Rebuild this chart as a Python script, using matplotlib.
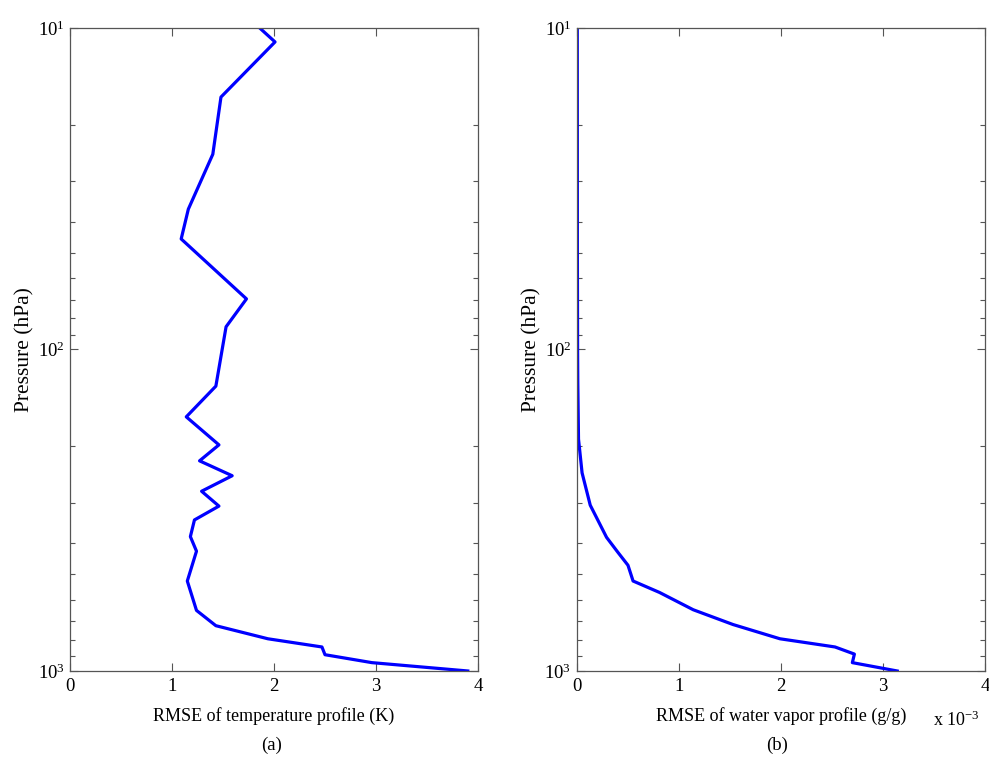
import numpy as np
import matplotlib
matplotlib.use('Agg')
import matplotlib.pyplot as plt
from matplotlib.ticker import LogLocator, FixedLocator, NullFormatter

plt.rcParams['font.family'] = ['Liberation Serif', 'DejaVu Serif']
plt.rcParams['mathtext.fontset'] = 'custom'
plt.rcParams['mathtext.rm'] = 'Liberation Serif'
plt.rcParams['mathtext.it'] = 'Liberation Serif:italic'

# (a) temperature RMSE (K) against pressure (hPa)
temp_p = [10, 11.05, 16.4, 24.7, 36.6, 45.3, 69.6, 85.0, 130, 162, 198, 222,
          247, 276, 307, 339, 382, 424, 525, 648, 723, 794, 842, 890, 942,
          1000]
temp_rmse = [1.86, 2.01, 1.48, 1.40, 1.16, 1.09, 1.73, 1.53, 1.43, 1.14,
             1.46, 1.27, 1.59, 1.29, 1.46, 1.22, 1.18, 1.24, 1.15, 1.24,
             1.43, 1.94, 2.47, 2.50, 2.96, 3.90]

# (b) water vapour RMSE (x 1e-3 g/g) against pressure (hPa)
wv_p = [10, 50, 100, 127, 160, 190, 242, 305, 384, 427, 469, 525, 570, 645,
        717, 794, 842, 886, 942, 1000]
wv_rmse = [0.003, 0.004, 0.006, 0.008, 0.012, 0.015, 0.05, 0.13, 0.29,
           0.40, 0.50, 0.55, 0.81, 1.14, 1.53, 1.99, 2.53, 2.72, 2.70, 3.14]

x_ticks = [0, 1, 2, 3, 4]
y_ticks = [10, 100, 1000]
y_ticklabels = [r'$10^{1}$', r'$10^{2}$', r'$10^{3}$']

fig = plt.figure(figsize=(9.89, 7.65), dpi=100)
ax_a = fig.add_axes([0.0708, 0.1229, 0.4125, 0.8405])
ax_b = fig.add_axes([0.5834, 0.1229, 0.4125, 0.8405])

panels = [
    (ax_a, temp_rmse, temp_p, 'RMSE of temperature profile (K)', '(a)'),
    (ax_b, wv_rmse, wv_p, 'RMSE of water vapor profile (g/g)', '(b)'),
]
for ax, x, p, xlabel, tag in panels:
    ax.plot(x, p, color='#0000ff', linewidth=2.3)
    ax.set_yscale('log')
    ax.set_ylim(1000, 10)
    ax.set_xlim(0, 4)
    ax.xaxis.set_major_locator(FixedLocator(x_ticks))
    ax.set_xticklabels([str(t) for t in x_ticks])
    ax.yaxis.set_major_locator(FixedLocator(y_ticks))
    ax.set_yticklabels(y_ticklabels)
    ax.yaxis.set_minor_locator(LogLocator(base=10, subs=np.arange(2, 10)))
    ax.yaxis.set_minor_formatter(NullFormatter())
    ax.tick_params(which='both', direction='in', top=True, right=True,
                   colors='#555555', labelcolor='black', labelsize=13.5)
    ax.tick_params(which='major', length=6, width=0.8)
    ax.tick_params(which='minor', length=3.5, width=0.8)
    ax.tick_params(axis='x', pad=5)
    ax.tick_params(axis='y', pad=4)
    for s in ax.spines.values():
        s.set_color('#555555')
        s.set_linewidth(0.9)
    ax.set_xlabel(xlabel, fontsize=13, labelpad=9)
    ax.set_ylabel('Pressure (hPa)', fontsize=15.5, labelpad=2)

fig.text(0.275, 0.026, '(a)', ha='center', va='center', fontsize=13.5)
fig.text(0.786, 0.026, '(b)', ha='center', va='center', fontsize=13.5)
fig.text(0.967, 0.058, r'x $10^{-3}$', ha='center', va='center',
         fontsize=13)

fig.savefig('out.png', dpi=100)
